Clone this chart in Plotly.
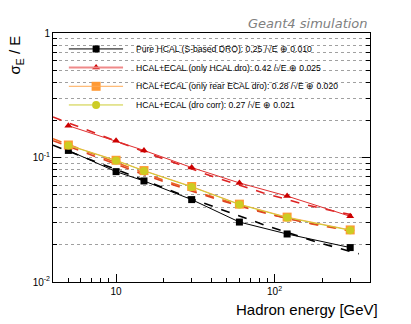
import numpy as np
import plotly.graph_objects as go

# energies (GeV)
energia = [5, 10, 15, 30, 60, 120, 300]

# resoluciones
res_hcal = [0.114, 0.077, 0.0648, 0.0459, 0.0303, 0.0243, 0.0189]
res_only_hcal = [0.180, 0.136, 0.114, 0.083, 0.0625, 0.049, 0.0337]
res_rear_ecal = [0.126, 0.0950, 0.0785, 0.0585, 0.0422, 0.0332, 0.0262]
res_dro_corr = [0.125, 0.0944, 0.0780, 0.0580, 0.0419, 0.0329, 0.0260]

# parametros del ajuste  a/sqrt(E) (+) b
fit_a = [0.25, 0.42, 0.28, 0.27]
fit_b = [0.010, 0.025, 0.020, 0.021]

nombres = [
    "Pure HCAL (S-based DRO): 0.25 /√E ⊕ 0.010",
    "HCAL+ECAL (only HCAL dro): 0.42 /√E ⊕ 0.025",
    "HCAL+ECAL (only rear ECAL dro): 0.28 /√E ⊕ 0.020",
    "HCAL+ECAL (dro corr): 0.27 /√E ⊕ 0.021",
]

series = [res_hcal, res_only_hcal, res_rear_ecal, res_dro_corr]
colores = ["#000000", "#cc0000", "#ff9933", "#cccc22"]
col_linea = ["#000000", "#e03030", "#ffaa55", "#cccc33"]
col_ajuste = ["#000000", "#dd2222", "#ee6622", "#dd4422"]
col_leyenda = ["#000000", "#f08a8a", "#ffaa55", "#cccc33"]
simbolos = ["square", "triangle-up", "square", "circle"]
tamanos = [7, 7, 9, 8]

fig = go.Figure()

# curvas de ajuste (linea discontinua)
e_fit = np.logspace(np.log10(4.0), np.log10(340), 200)
for a, b, c in zip(fit_a, fit_b, col_ajuste):
    fig.add_trace(go.Scatter(
        x=e_fit, y=np.sqrt((a / np.sqrt(e_fit)) ** 2 + b ** 2),
        mode="lines", line=dict(color=c, width=1.6, dash="dash"),
        showlegend=False, hoverinfo="skip"))

# datos
for ys, c, cl, s, t in zip(series, colores, col_linea, simbolos, tamanos):
    fig.add_trace(go.Scatter(
        x=energia, y=ys, mode="lines+markers",
        line=dict(color=cl, width=1),
        marker=dict(color=c, symbol=s, size=t, line=dict(width=0)),
        showlegend=False))

# leyenda dibujada a mano
filas = [0.936, 0.861, 0.786, 0.711]
for y, n, c, cl, s, t in zip(filas, nombres, colores, col_leyenda, simbolos, tamanos):
    fig.add_shape(type="line", xref="paper", yref="paper",
                  x0=0.05, x1=0.221, y0=y, y1=y,
                  line=dict(color=cl, width=2 if cl == "#f08a8a" else 1))
    fig.add_trace(go.Scatter(
        x=[0.136], y=[y], xaxis="x2", yaxis="y2", mode="markers",
        marker=dict(color=c, symbol=s, size=t, line=dict(width=0)),
        showlegend=False, hoverinfo="skip"))
    fig.add_annotation(x=0.256, y=y, xref="paper", yref="paper", text=n,
                       showarrow=False, xanchor="left", yanchor="middle",
                       font=dict(size=8.6, color="black"))

ymin_vals = [k * 10 ** d for d in (-2, -1) for k in range(2, 10)]
xmin_vals = [k * 10 ** d for d in (0, 1, 2) for k in range(2, 10)]
xmin_vals = [v for v in xmin_vals if 4 <= v <= 400 and v not in (10, 100)]

fig.update_layout(
    width=411, height=324,
    margin=dict(l=53, r=41, t=33, b=42),
    paper_bgcolor="white", plot_bgcolor="white",
    font=dict(family="Liberation Sans, Arial", color="black"),
    showlegend=False,
    xaxis=dict(
        type="log", range=[np.log10(4), np.log10(400)], automargin=False,
        tickvals=[10, 100], ticktext=["10", "10<sup>2</sup>"],
        ticks="inside", ticklen=8, tickcolor="black",
        tickfont=dict(size=10),
        showline=True, linecolor="black", linewidth=1, mirror=True,
        showgrid=False, zeroline=False,
        minor=dict(tickvals=xmin_vals, ticks="inside", ticklen=4,
                   tickcolor="black", showgrid=False),
    ),
    yaxis=dict(
        type="log", range=[-2, 0], automargin=False,
        tickvals=[0.01, 0.1, 1], ticktext=["10<sup>-2</sup>", "10<sup>-1</sup>", "1"],
        ticks="inside", ticklen=8, tickcolor="black",
        tickfont=dict(size=10),
        showline=True, linecolor="black", linewidth=1, mirror="ticks",
        showgrid=True, gridcolor="#a0a0a0", griddash="dot", gridwidth=1,
        zeroline=False,
        minor=dict(tickvals=ymin_vals, ticks="inside", ticklen=4,
                   tickcolor="black", showgrid=True, gridcolor="#a0a0a0",
                   griddash="dot", gridwidth=1),
    ),
    xaxis2=dict(overlaying="x", range=[0, 1], visible=False, fixedrange=True,
                automargin=False),
    yaxis2=dict(overlaying="y", range=[0, 1], visible=False, fixedrange=True,
                automargin=False),
)

# titulos de los ejes
fig.add_annotation(x=1.03, y=-0.112, xref="paper", yref="paper",
                   text="Hadron energy [GeV]", showarrow=False,
                   xanchor="right", yanchor="middle", font=dict(size=15))
fig.add_annotation(x=-0.117, y=1.0, xref="paper", yref="paper",
                   text="σ<sub>E</sub> / E", showarrow=False, textangle=-90,
                   xanchor="center", yanchor="top", font=dict(size=15))
fig.add_annotation(x=1.0, y=1.04, xref="paper", yref="paper",
                   text="<i>Geant4 simulation</i>", showarrow=False,
                   xanchor="right", yanchor="middle",
                   font=dict(size=13, color="#808080", family="DejaVu Sans"))

# quitar el margen del body para que la figura empiece en (0, 0)
fig.write_html("out.html", config={"displayModeBar": False},
               post_script="document.body.style.margin='0';")
